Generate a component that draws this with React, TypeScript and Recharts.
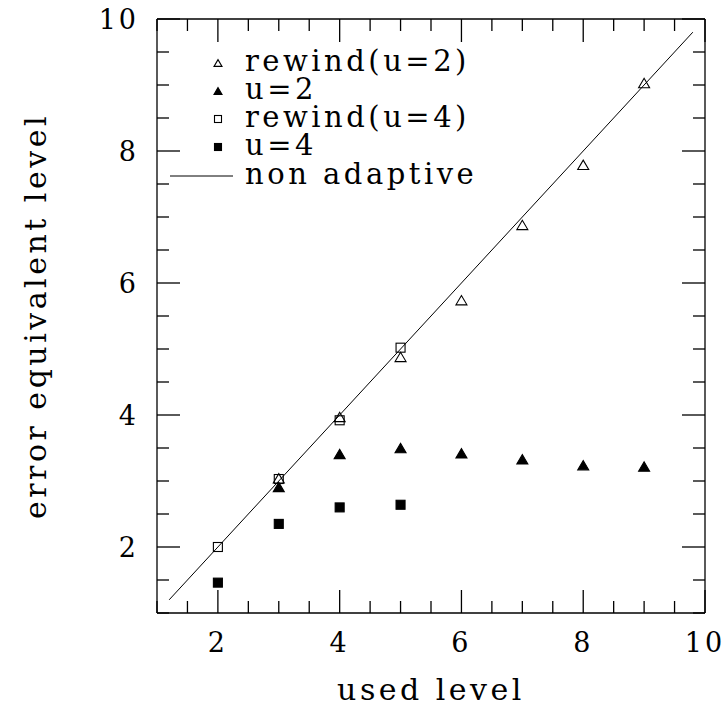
import { ScatterChart, Scatter, XAxis, YAxis, Legend, Label } from "recharts";

// values
const rewindU2 = [
  { x: 3, y: 3.04 },
  { x: 4, y: 3.97 },
  { x: 5, y: 4.88 },
  { x: 6, y: 5.74 },
  { x: 7, y: 6.88 },
  { x: 8, y: 7.79 },
  { x: 9, y: 9.03 },
];
const u2 = [
  { x: 3, y: 2.91 },
  { x: 4, y: 3.41 },
  { x: 5, y: 3.5 },
  { x: 6, y: 3.42 },
  { x: 7, y: 3.33 },
  { x: 8, y: 3.24 },
  { x: 9, y: 3.22 },
];
const rewindU4 = [
  { x: 2, y: 2.0 },
  { x: 3, y: 3.03 },
  { x: 4, y: 3.92 },
  { x: 5, y: 5.02 },
];
const u4 = [
  { x: 2, y: 1.46 },
  { x: 3, y: 2.35 },
  { x: 4, y: 2.6 },
  { x: 5, y: 2.64 },
];
const nonAdaptive = [
  { x: 1.2, y: 1.2 },
  { x: 9.8, y: 9.8 },
];

const seriesNames = ["rewind(u=2)", "u=2", "rewind(u=4)", "u=4", "non adaptive"];
const axisTicks = [1, 1.5, 2, 2.5, 3, 3.5, 4, 4.5, 5, 5.5, 6, 6.5, 7, 7.5, 8, 8.5, 9, 9.5, 10];
const labelledTicks = [2, 4, 6, 8, 10];

const FONT = "'DejaVu Serif', serif";
const TS = 6; // tickSize handed to recharts
const TM = 2; // tickMargin handed to recharts
const MAJOR = 23;
const MINOR = 12;
const STROKE = 1.3;

const tickLen = (v: number) => (labelledTicks.includes(v) ? MAJOR : MINOR);

function BottomTick({ x, y, payload }: any) {
  const y0 = y - TS - TM;
  const v = payload.value;
  return (
    <g>
      <line x1={x} x2={x} y1={y0} y2={y0 - tickLen(v)} stroke="#000" strokeWidth={STROKE} />
      {labelledTicks.includes(v) && (
        <text x={x} y={y0 + 39} textAnchor="middle" fontSize={27} letterSpacing={3} fontFamily={FONT} fill="#000">
          {v}
        </text>
      )}
    </g>
  );
}

function TopTick({ x, y, payload }: any) {
  const y0 = y + TS + TM;
  return <line x1={x} x2={x} y1={y0} y2={y0 + tickLen(payload.value)} stroke="#000" strokeWidth={STROKE} />;
}

function LeftTick({ x, y, payload }: any) {
  const x0 = x + TS + TM;
  const v = payload.value;
  return (
    <g>
      <line x1={x0} x2={x0 + tickLen(v)} y1={y} y2={y} stroke="#000" strokeWidth={STROKE} />
      {labelledTicks.includes(v) && (
        <text x={x0 - 18} y={y + 10} textAnchor="end" fontSize={27} letterSpacing={3} fontFamily={FONT} fill="#000">
          {v}
        </text>
      )}
    </g>
  );
}

function RightTick({ x, y, payload }: any) {
  const x0 = x - TS - TM;
  return <line x1={x0} x2={x0 - tickLen(payload.value)} y1={y} y2={y} stroke="#000" strokeWidth={STROKE} />;
}

function triangle(cx: number, cy: number, w: number, filled: boolean) {
  const h = w * 0.85;
  return (
    <polygon
      points={`${cx - w / 2},${cy + h / 2} ${cx + w / 2},${cy + h / 2} ${cx},${cy - h / 2}`}
      fill={filled ? "#000" : "none"}
      stroke="#000"
      strokeWidth={1.1}
    />
  );
}

function square(cx: number, cy: number, w: number, filled: boolean) {
  return (
    <rect x={cx - w / 2} y={cy - w / 2} width={w} height={w} fill={filled ? "#000" : "none"} stroke="#000" strokeWidth={1.1} />
  );
}

const OpenTri = (p: any) => triangle(p.cx, p.cy, 11, false);
const FilledTri = (p: any) => triangle(p.cx, p.cy, 11, true);
const OpenSq = (p: any) => square(p.cx, p.cy, 9, false);
const FilledSq = (p: any) => square(p.cx, p.cy, 9, true);
const NoDot = () => <g />;

function LegendBox() {
  const rows = [63, 91, 119, 147, 176];
  const mx = 218;
  return (
    <svg width={725} height={200} style={{ display: "block" }}>
      {triangle(mx, rows[0], 8, false)}
      {triangle(mx, rows[1], 8, true)}
      {square(mx, rows[2], 7, false)}
      {square(mx, rows[3], 7, true)}
      <line x1={170} x2={233} y1={rows[4]} y2={rows[4]} stroke="#000" strokeWidth={1} />
      {seriesNames.map((name, i) => (
        <text key={name} x={245} y={rows[i] + 8} fontSize={29} letterSpacing={3.5} fontFamily={FONT} fill="#000">
          {name}
        </text>
      ))}
    </svg>
  );
}

export default function App() {
  return (
    <div style={{ position: "absolute", left: 0, top: 0, background: "#fff" }}>
      <ScatterChart width={725} height={715} margin={{ top: 18, right: 19, bottom: 42, left: 57 }}>
        <XAxis
          xAxisId="b"
          dataKey="x"
          type="number"
          domain={[1, 10]}
          ticks={axisTicks}
          interval={0}
          height={60}
          tickSize={TS}
          tickMargin={TM}
          tickLine={false}
          tick={<BottomTick />}
          axisLine={{ stroke: "#000", strokeWidth: STROKE }}
        >
          <Label
            content={() => (
              <text x={431} y={700} textAnchor="middle" fontSize={30} letterSpacing={3.5} fontFamily={FONT} fill="#000">
                used level
              </text>
            )}
          />
        </XAxis>
        <XAxis
          xAxisId="t"
          orientation="top"
          dataKey="x"
          type="number"
          domain={[1, 10]}
          ticks={axisTicks}
          interval={0}
          height={1}
          tickSize={TS}
          tickMargin={TM}
          tickLine={false}
          tick={<TopTick />}
          axisLine={{ stroke: "#000", strokeWidth: STROKE }}
        />
        <YAxis
          yAxisId="l"
          dataKey="y"
          type="number"
          domain={[1, 10]}
          ticks={axisTicks}
          interval={0}
          width={100}
          tickSize={TS}
          tickMargin={TM}
          tickLine={false}
          tick={<LeftTick />}
          axisLine={{ stroke: "#000", strokeWidth: STROKE }}
        >
          <Label
            content={() => (
              <text
                transform="translate(46,316) rotate(-90)"
                textAnchor="middle"
                fontSize={30}
                letterSpacing={3.5}
                fontFamily={FONT}
                fill="#000"
              >
                error equivalent level
              </text>
            )}
          />
        </YAxis>
        <YAxis
          yAxisId="r"
          orientation="right"
          dataKey="y"
          type="number"
          domain={[1, 10]}
          ticks={axisTicks}
          interval={0}
          width={1}
          tickSize={TS}
          tickMargin={TM}
          tickLine={false}
          tick={<RightTick />}
          axisLine={{ stroke: "#000", strokeWidth: STROKE }}
        />
        <Legend
          layout="vertical"
          align="center"
          verticalAlign="middle"
          wrapperStyle={{ left: 0, top: 0, width: 725, height: 200 }}
          content={() => <LegendBox />}
        />
        <Scatter name="rewind(u=2)" data={rewindU2} xAxisId="b" yAxisId="l" shape={OpenTri} isAnimationActive={false} />
        <Scatter name="u=2" data={u2} xAxisId="b" yAxisId="l" shape={FilledTri} isAnimationActive={false} />
        <Scatter name="rewind(u=4)" data={rewindU4} xAxisId="b" yAxisId="l" shape={OpenSq} isAnimationActive={false} />
        <Scatter name="u=4" data={u4} xAxisId="b" yAxisId="l" shape={FilledSq} isAnimationActive={false} />
        <Scatter
          name="non adaptive"
          data={nonAdaptive}
          xAxisId="t"
          yAxisId="r"
          shape={NoDot}
          line={{ stroke: "#000", strokeWidth: 1 }}
          isAnimationActive={false}
        />
      </ScatterChart>
    </div>
  );
}
